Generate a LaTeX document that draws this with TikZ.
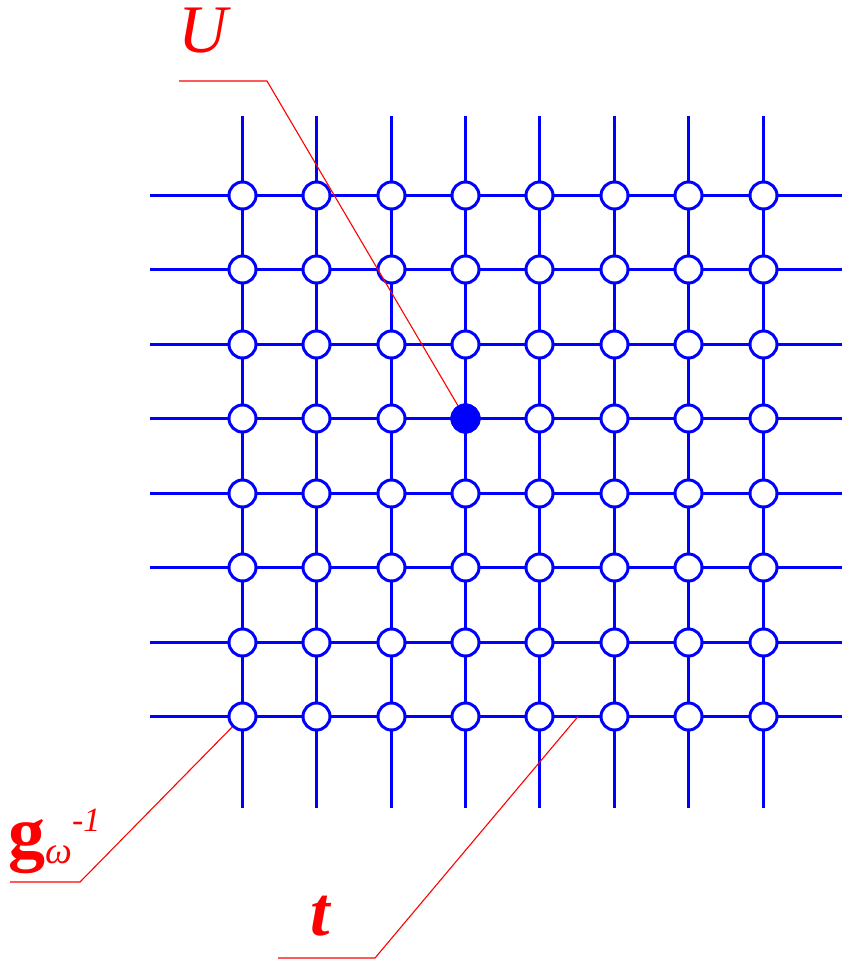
\documentclass[tikz,border=0pt]{standalone}
\usepackage{fontspec}
\setmainfont{Liberation Serif}[ItalicFont=* Italic,BoldFont=* Bold,BoldItalicFont=* Bold Italic]
\begin{document}
\begin{tikzpicture}[x=1pt,y=-1pt,
  gridline/.style={draw=blue,line width=3pt},
  site/.style={circle,draw=blue,fill=white,line width=3pt,minimum size=27pt,inner sep=0pt},
  fsite/.style={circle,draw=blue,fill=blue,line width=3pt,minimum size=27pt,inner sep=0pt},
  leader/.style={draw=red,line width=1.1pt},
  lbl/.style={text=red,inner sep=0pt}]
\useasboundingbox (0,0) rectangle (842,962);
% grid lines
\foreach \x [count=\i from 0] in {242.5,316.5,391.5,465.5,539.5,614.5,688.5,763.5}{
  \coordinate (top-\i) at (\x,116);
  \coordinate (bot-\i) at (\x,808);
  \draw[gridline] (top-\i) -- (bot-\i);
}
\foreach \y [count=\j from 0] in {195.5,269.5,344.5,418.5,493.5,567.5,642.5,716.5}{
  \coordinate (lft-\j) at (150,\y);
  \coordinate (rgt-\j) at (842,\y);
  \draw[gridline] (lft-\j) -- (rgt-\j);
}
% sites
\foreach \x [count=\i from 0] in {242.5,316.5,391.5,465.5,539.5,614.5,688.5,763.5}{
  \foreach \y [count=\j from 0] in {195.5,269.5,344.5,418.5,493.5,567.5,642.5,716.5}{
    \node[site] (n-\i-\j) at (\x,\y) {};
  }
}
\node[fsite] (n-3-3) at (465.5,418.5) {};
% labels
\node[lbl,anchor=base west] (labU) at (178,52) {\fontsize{68}{70}\selectfont\itshape U};
\node[lbl,anchor=base west] (labG) at (8,857) {\fontsize{74}{76}\selectfont\bfseries g\raisebox{-6pt}{\fontsize{38}{38}\selectfont\mdseries\itshape ω}\raisebox{26pt}{\fontsize{34}{34}\selectfont\mdseries\itshape -1}};
\node[lbl,anchor=base west] (labT) at (310,935) {\fontsize{70}{72}\selectfont\bfseries\itshape t};
% leaders
\coordinate (uA) at (179,81);
\coordinate (uB) at (267,81);
\draw[leader] (uA) -- (uB) -- (n-3-3);
\coordinate (gA) at (10,882);
\coordinate (gB) at (80,882);
\draw[leader] (gA) -- (gB) -- (n-0-7);
\coordinate (tA) at (278,958);
\coordinate (tB) at (375,958);
\coordinate (tC) at (578,716.5);
\draw[leader] (tA) -- (tB) -- (tC);
\end{tikzpicture}
\end{document}
